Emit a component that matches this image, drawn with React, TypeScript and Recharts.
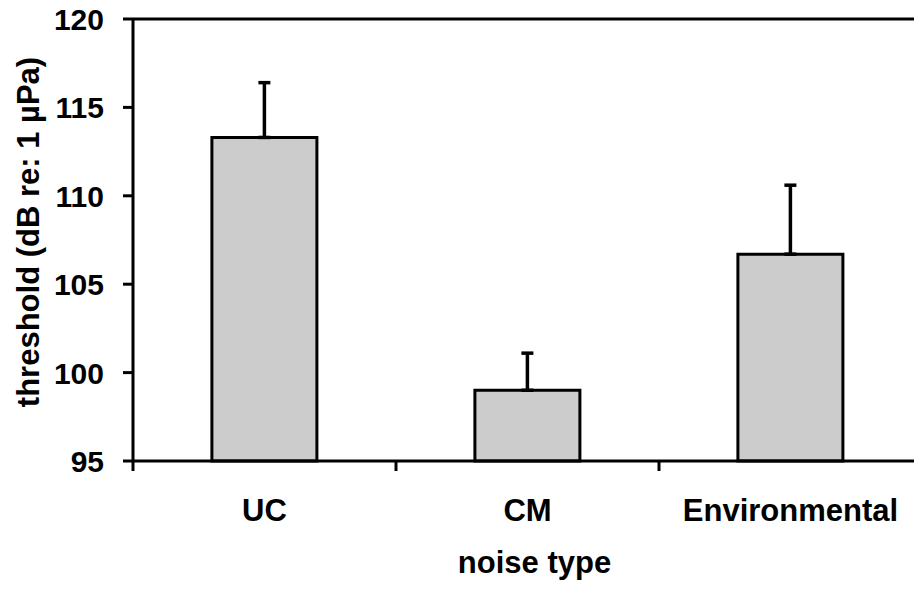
import { BarChart, Bar, XAxis, YAxis, ErrorBar, ReferenceLine } from "recharts";

const categories = ["UC", "CM", "Environmental"];
const thresholds = [113.3, 99.0, 106.7];
const errors = [3.1, 2.1, 3.9];
const yTicks = [95, 100, 105, 110, 115, 120];

const data = categories.map((name, i) => ({ name, value: thresholds[i], err: [0, errors[i]] }));

const W = 940;
const H = 589;
const M = { top: 19, right: 18, left: 0, bottom: 0 };
const Y_W = 133;
const BAND = (W - M.left - M.right - Y_W) / categories.length;

const FONT = "'Liberation Sans', Arial, Helvetica, sans-serif";
const TXT = { fontFamily: FONT, fontWeight: 700, fontSize: 31, fill: "#000" };

// category labels centred, tick marks on the band edges like the original
function CatTick(props: any) {
  const { x, y, payload } = props;
  return (
    <g>
      <line x1={x - BAND / 2} x2={x - BAND / 2} y1={y} y2={y + 10} stroke="#000" strokeWidth={3} />
      <text x={x} y={y + 60} textAnchor="middle" {...TXT}>{payload.value}</text>
    </g>
  );
}

function ValTick(props: any) {
  const { x, y, payload } = props;
  return (
    <text x={x + 1} y={y + 11} textAnchor="end" {...TXT} fontSize={30}>{payload.value}</text>
  );
}

function YTitle(props: any) {
  const vb = props.viewBox;
  const cx = vb.x + 39;
  const cy = vb.y + vb.height / 2 - 8;
  return (
    <text x={cx} y={cy} textAnchor="middle" transform={`rotate(-90, ${cx}, ${cy})`} {...TXT}>
      threshold (dB re: 1 µPa)
    </text>
  );
}

export default function App() {
  return (
    <div style={{ position: "absolute", left: 0, top: 0, width: 914, height: 589, overflow: "hidden", background: "#fff" }}>
      <BarChart width={W} height={H} data={data} margin={M} barCategoryGap="30%">
        <XAxis
          dataKey="name"
          height={H - 461}
          interval={0}
          tickLine={false}
          tickSize={0}
          tickMargin={0}
          axisLine={{ stroke: "#000", strokeWidth: 3 }}
          tick={<CatTick />}
          label={{ value: "noise type", position: "insideBottom", offset: 16, dx: 7, style: TXT }}
        />
        <YAxis
          width={Y_W}
          domain={[95, 120]}
          ticks={yTicks}
          interval={0}
          tickSize={10}
          tickMargin={20}
          axisLine={{ stroke: "#000", strokeWidth: 3 }}
          tickLine={{ stroke: "#000", strokeWidth: 3 }}
          tick={<ValTick />}
          label={{ content: <YTitle /> }}
        />
        <ReferenceLine y={120} stroke="#000" strokeWidth={3} />
        <Bar dataKey="value" fill="#cccccc" stroke="#000" strokeWidth={3} isAnimationActive={false}>
          <ErrorBar dataKey="err" direction="y" width={6} stroke="#000" strokeWidth={3.5} isAnimationActive={false} />
        </Bar>
      </BarChart>
    </div>
  );
}
